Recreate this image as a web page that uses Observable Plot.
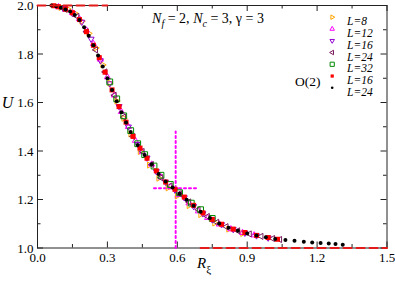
<!DOCTYPE html>
<html><head><meta charset="utf-8">
<script src="https://cdn.jsdelivr.net/npm/d3@7"></script>
<script src="https://cdn.jsdelivr.net/npm/@observablehq/plot@0.6"></script>
<style>
body{margin:0;background:#fff}
svg{display:block}
svg text{font-family:"Liberation Serif","Times New Roman",serif !important}
</style>
</head><body><div id="chart"></div>
<script>
// ---- data: [R_xi, U] ----
const L8 = [[0.10,1.992],[0.13,1.985],[0.16,1.968],[0.19,1.935],[0.22,1.885],[0.25,1.825],[0.28,1.755],[0.31,1.680],[0.34,1.606],[0.37,1.535],[0.40,1.470],[0.44,1.398],[0.48,1.342],[0.52,1.288],[0.56,1.248],[0.60,1.215],[0.65,1.175],[0.70,1.138],[0.76,1.103],[0.82,1.078],[0.88,1.060]];
const L12 = [[0.09,1.994],[0.12,1.985],[0.15,1.970],[0.18,1.945],[0.21,1.898],[0.24,1.842],[0.27,1.778],[0.30,1.705],[0.33,1.630],[0.36,1.562],[0.39,1.500],[0.42,1.443],[0.45,1.396],[0.49,1.345],[0.53,1.292],[0.57,1.252],[0.61,1.220],[0.65,1.185],[0.69,1.152],[0.73,1.125],[0.78,1.098],[0.83,1.078],[0.88,1.063],[0.93,1.053]];
const L16 = [[0.11,1.989],[0.15,1.968],[0.19,1.932],[0.23,1.862],[0.27,1.773],[0.31,1.678],[0.35,1.584],[0.39,1.500],[0.43,1.428],[0.47,1.372],[0.51,1.316],[0.55,1.272],[0.59,1.240],[0.63,1.208],[0.67,1.172],[0.71,1.142],[0.75,1.117],[0.79,1.097],[0.84,1.077],[0.89,1.062],[0.94,1.051],[0.99,1.042]];
const L24 = [[0.12,1.984],[0.17,1.955],[0.21,1.892],[0.25,1.817],[0.29,1.726],[0.33,1.630],[0.37,1.540],[0.41,1.460],[0.45,1.398],[0.49,1.344],[0.53,1.290],[0.57,1.256],[0.61,1.224],[0.65,1.190],[0.69,1.158],[0.73,1.130],[0.77,1.106],[0.81,1.088],[0.86,1.071],[0.91,1.058],[0.96,1.048],[1.01,1.039],[1.04,1.035]];
const L32 = [[0.31,1.685],[0.34,1.615],[0.37,1.545],[0.40,1.484],[0.43,1.430],[0.46,1.385],[0.50,1.338],[0.53,1.300],[0.57,1.262],[0.61,1.228],[0.66,1.185],[0.70,1.158],[0.75,1.122]];
const O2_L16 = [[0.07,1.999],[0.09,1.995],[0.12,1.985],[0.15,1.970],[0.18,1.942],[0.21,1.892],[0.24,1.836],[0.265,1.785],[0.29,1.725],[0.32,1.652],[0.35,1.583],[0.38,1.519],[0.41,1.460],[0.44,1.412],[0.47,1.370],[0.51,1.318],[0.55,1.272],[0.59,1.242],[0.63,1.210],[0.67,1.176],[0.71,1.145],[0.75,1.118],[0.79,1.098],[0.84,1.078],[0.89,1.064],[0.94,1.052],[0.99,1.043],[1.03,1.036]];
const O2_L24 = [[0.06,2.000],[0.08,1.997],[0.10,1.991],[0.12,1.984],[0.14,1.975],[0.16,1.961],[0.18,1.940],[0.20,1.910],[0.22,1.875],[0.24,1.836],[0.26,1.794],[0.28,1.748],[0.30,1.700],[0.32,1.652],[0.34,1.605],[0.36,1.560],[0.38,1.518],[0.40,1.478],[0.43,1.425],[0.46,1.383],[0.49,1.345],[0.52,1.305],[0.55,1.274],[0.58,1.250],[0.61,1.224],[0.64,1.199],[0.67,1.174],[0.70,1.150],[0.74,1.124],[0.78,1.101],[0.82,1.084],[0.86,1.071],[0.90,1.060],[0.94,1.052],[0.98,1.044],[1.02,1.037],[1.064,1.033],[1.103,1.030],[1.143,1.026],[1.179,1.023],[1.215,1.021],[1.250,1.019],[1.279,1.016],[1.310,1.013]];

const legendLabels = ["L=8","L=12","L=16","L=24","L=32","L=16","L=24"];
const refTop = [[0,2],[0.3,2]];
const refBottom = [[0.7,1],[1.5,1]];
const crossV = [[0.593,1.0],[0.593,1.48]];
const crossH = [[0.50,1.246],[0.69,1.246]];
const xMajor = [0,0.3,0.6,0.9,1.2,1.5];
const xMinor = [0.15,0.45,0.75,1.05,1.35];
const yMajor = [1.0,1.2,1.4,1.6,1.8,2.0];
const yMinor = [1.1,1.3,1.5,1.7,1.9];

// ---- layout ----
const W = 395, H = 283, mL = 37, mR = 8.5, mT = 5, mB = 35.5;
const iW = W - mL - mR, iH = H - mT - mB;
const serif = "Liberation Serif, serif";

function tri(angle, r) {
  return {draw(ctx) {
    const p = [0,120,240].map(a => { const t = (a + angle) * Math.PI / 180; return [r*Math.cos(t), r*Math.sin(t)]; });
    ctx.moveTo(p[0][0], p[0][1]); ctx.lineTo(p[1][0], p[1][1]); ctx.lineTo(p[2][0], p[2][1]); ctx.closePath();
  }};
}
function sq(h) { return {draw(ctx) { ctx.moveTo(-h,-h); ctx.lineTo(h,-h); ctx.lineTo(h,h); ctx.lineTo(-h,h); ctx.closePath(); }}; }
function circ(r) { return {draw(ctx) { ctx.moveTo(r,0); ctx.arc(0,0,r,0,2*Math.PI); }}; }

const series = [
  {data: L8, color: "#ffa500", open: true, sym: tri(0,3.5), leg: tri(0,2.6)},
  {data: L12, color: "#ff00ff", open: true, sym: tri(-90,3.5), leg: tri(-90,2.6)},
  {data: L16, color: "#9400d3", open: true, sym: tri(90,3.5), leg: tri(90,2.6)},
  {data: L24, color: "#7b1a5e", open: true, sym: tri(180,3.5), leg: tri(180,2.6)},
  {data: L32, color: "#008b00", open: true, sym: sq(2.9), leg: sq(2.1)},
  {data: O2_L16, color: "#ff0000", open: false, sym: sq(2.5), leg: sq(1.6)},
  {data: O2_L24, color: "#000000", open: false, sym: circ(2.0), leg: circ(1.3)}
];

const marks = [
  Plot.frame({stroke: "#222", strokeWidth: 1}),
  Plot.tickX(xMajor, {x: d => d, insetTop: iH - 6, stroke: "#222"}),
  Plot.tickX(xMinor, {x: d => d, insetTop: iH - 3.5, stroke: "#222"}),
  Plot.tickX(xMajor, {x: d => d, insetBottom: iH - 6, stroke: "#222"}),
  Plot.tickX(xMinor, {x: d => d, insetBottom: iH - 3.5, stroke: "#222"}),
  Plot.tickY(yMajor, {y: d => d, insetRight: iW - 6, stroke: "#222"}),
  Plot.tickY(yMinor, {y: d => d, insetRight: iW - 3.5, stroke: "#222"}),
  Plot.tickY(yMajor, {y: d => d, insetLeft: iW - 6, stroke: "#222"}),
  Plot.tickY(yMinor, {y: d => d, insetLeft: iW - 3.5, stroke: "#222"}),
  Plot.axisX({ticks: xMajor, tickSize: 0, tickPadding: 5, tickFormat: d3.format(".1f"), fontSize: 13, fontFamily: serif, fill: "black", label: null}),
  Plot.axisY({ticks: yMajor, tickSize: 0, tickPadding: 4, tickFormat: d3.format(".1f"), fontSize: 13, fontFamily: serif, fill: "black", label: null, dy: 0.8}),
  Plot.line(crossV, {x: d => d[0], y: d => d[1], stroke: "#ff00ff", strokeWidth: 2, strokeDasharray: "2,3"}),
  Plot.line(crossH, {x: d => d[0], y: d => d[1], stroke: "#ff00ff", strokeWidth: 2, strokeDasharray: "2,3"})
];
for (const s of series) {
  marks.push(Plot.dot(s.data, {x: d => d[0], y: d => d[1], symbol: s.sym, r: 3,
    fill: s.open ? "none" : s.color, stroke: s.open ? s.color : "none", strokeWidth: 1}));
}
marks.push(
  Plot.line(refTop, {x: d => d[0], y: d => d[1], stroke: "#e41a1a", strokeWidth: 2, strokeDasharray: "8,5"}),
  Plot.line(refBottom, {x: d => d[0], y: d => d[1], stroke: "#e41a1a", strokeWidth: 2, strokeDasharray: "8,5"})
);
// legend
series.forEach((s, i) => {
  const dy = 11.7 + i * 11.77;
  marks.push(Plot.dot([0], {frameAnchor: "top-left", dx: 294.7, dy, symbol: s.leg, r: 2,
    fill: s.open ? "none" : s.color, stroke: s.open ? s.color : "none", strokeWidth: 1}));
  marks.push(Plot.text([legendLabels[i]], {frameAnchor: "top-left", dx: 309.5, dy, text: d => d,
    textAnchor: "start", fontStyle: "italic", fontSize: 11.5, fontFamily: serif, fill: "black"}));
});
marks.push(Plot.text(["O(2)"], {frameAnchor: "top-left", dx: 257.5, dy: 71, text: d => d,
  textAnchor: "start", fontSize: 13.5, fontFamily: serif, fill: "black"}));

const chart = Plot.plot({
  width: W, height: H, marginLeft: mL, marginRight: mR, marginTop: mT, marginBottom: mB,
  x: {domain: [0, 1.5], axis: null},
  y: {domain: [1, 2], axis: null},
  style: {background: "white", color: "black", fontFamily: serif},
  marks
});

const svg = d3.select(chart);
// axis labels
svg.append("text").attr("x", 7.5).attr("y", 108).attr("text-anchor", "middle")
  .attr("font-family", serif).attr("font-style", "italic").attr("font-size", 16).attr("fill", "black").text("U");
const rl = svg.append("text").attr("x", 204).attr("y", 268)
  .attr("font-family", serif).attr("font-size", 15).attr("fill", "black");
rl.append("tspan").attr("font-style", "italic").text("R");
rl.append("tspan").attr("font-size", 11).attr("dy", 5).text("ξ");
// annotation
const an = svg.append("text").attr("x", 208).attr("y", 23)
  .attr("font-family", serif).attr("font-size", 14).attr("fill", "black");
an.append("tspan").attr("font-style", "italic").text("N");
an.append("tspan").attr("font-style", "italic").attr("font-size", 10).attr("dy", 4).text("f");
an.append("tspan").attr("dy", -4).text(" = 2, ");
an.append("tspan").attr("font-style", "italic").text("N");
an.append("tspan").attr("font-style", "italic").attr("font-size", 10).attr("dy", 4).text("c");
an.append("tspan").attr("dy", -4).text(" = 3, γ = 3");

document.getElementById("chart").appendChild(chart);
</script>
</body></html>
